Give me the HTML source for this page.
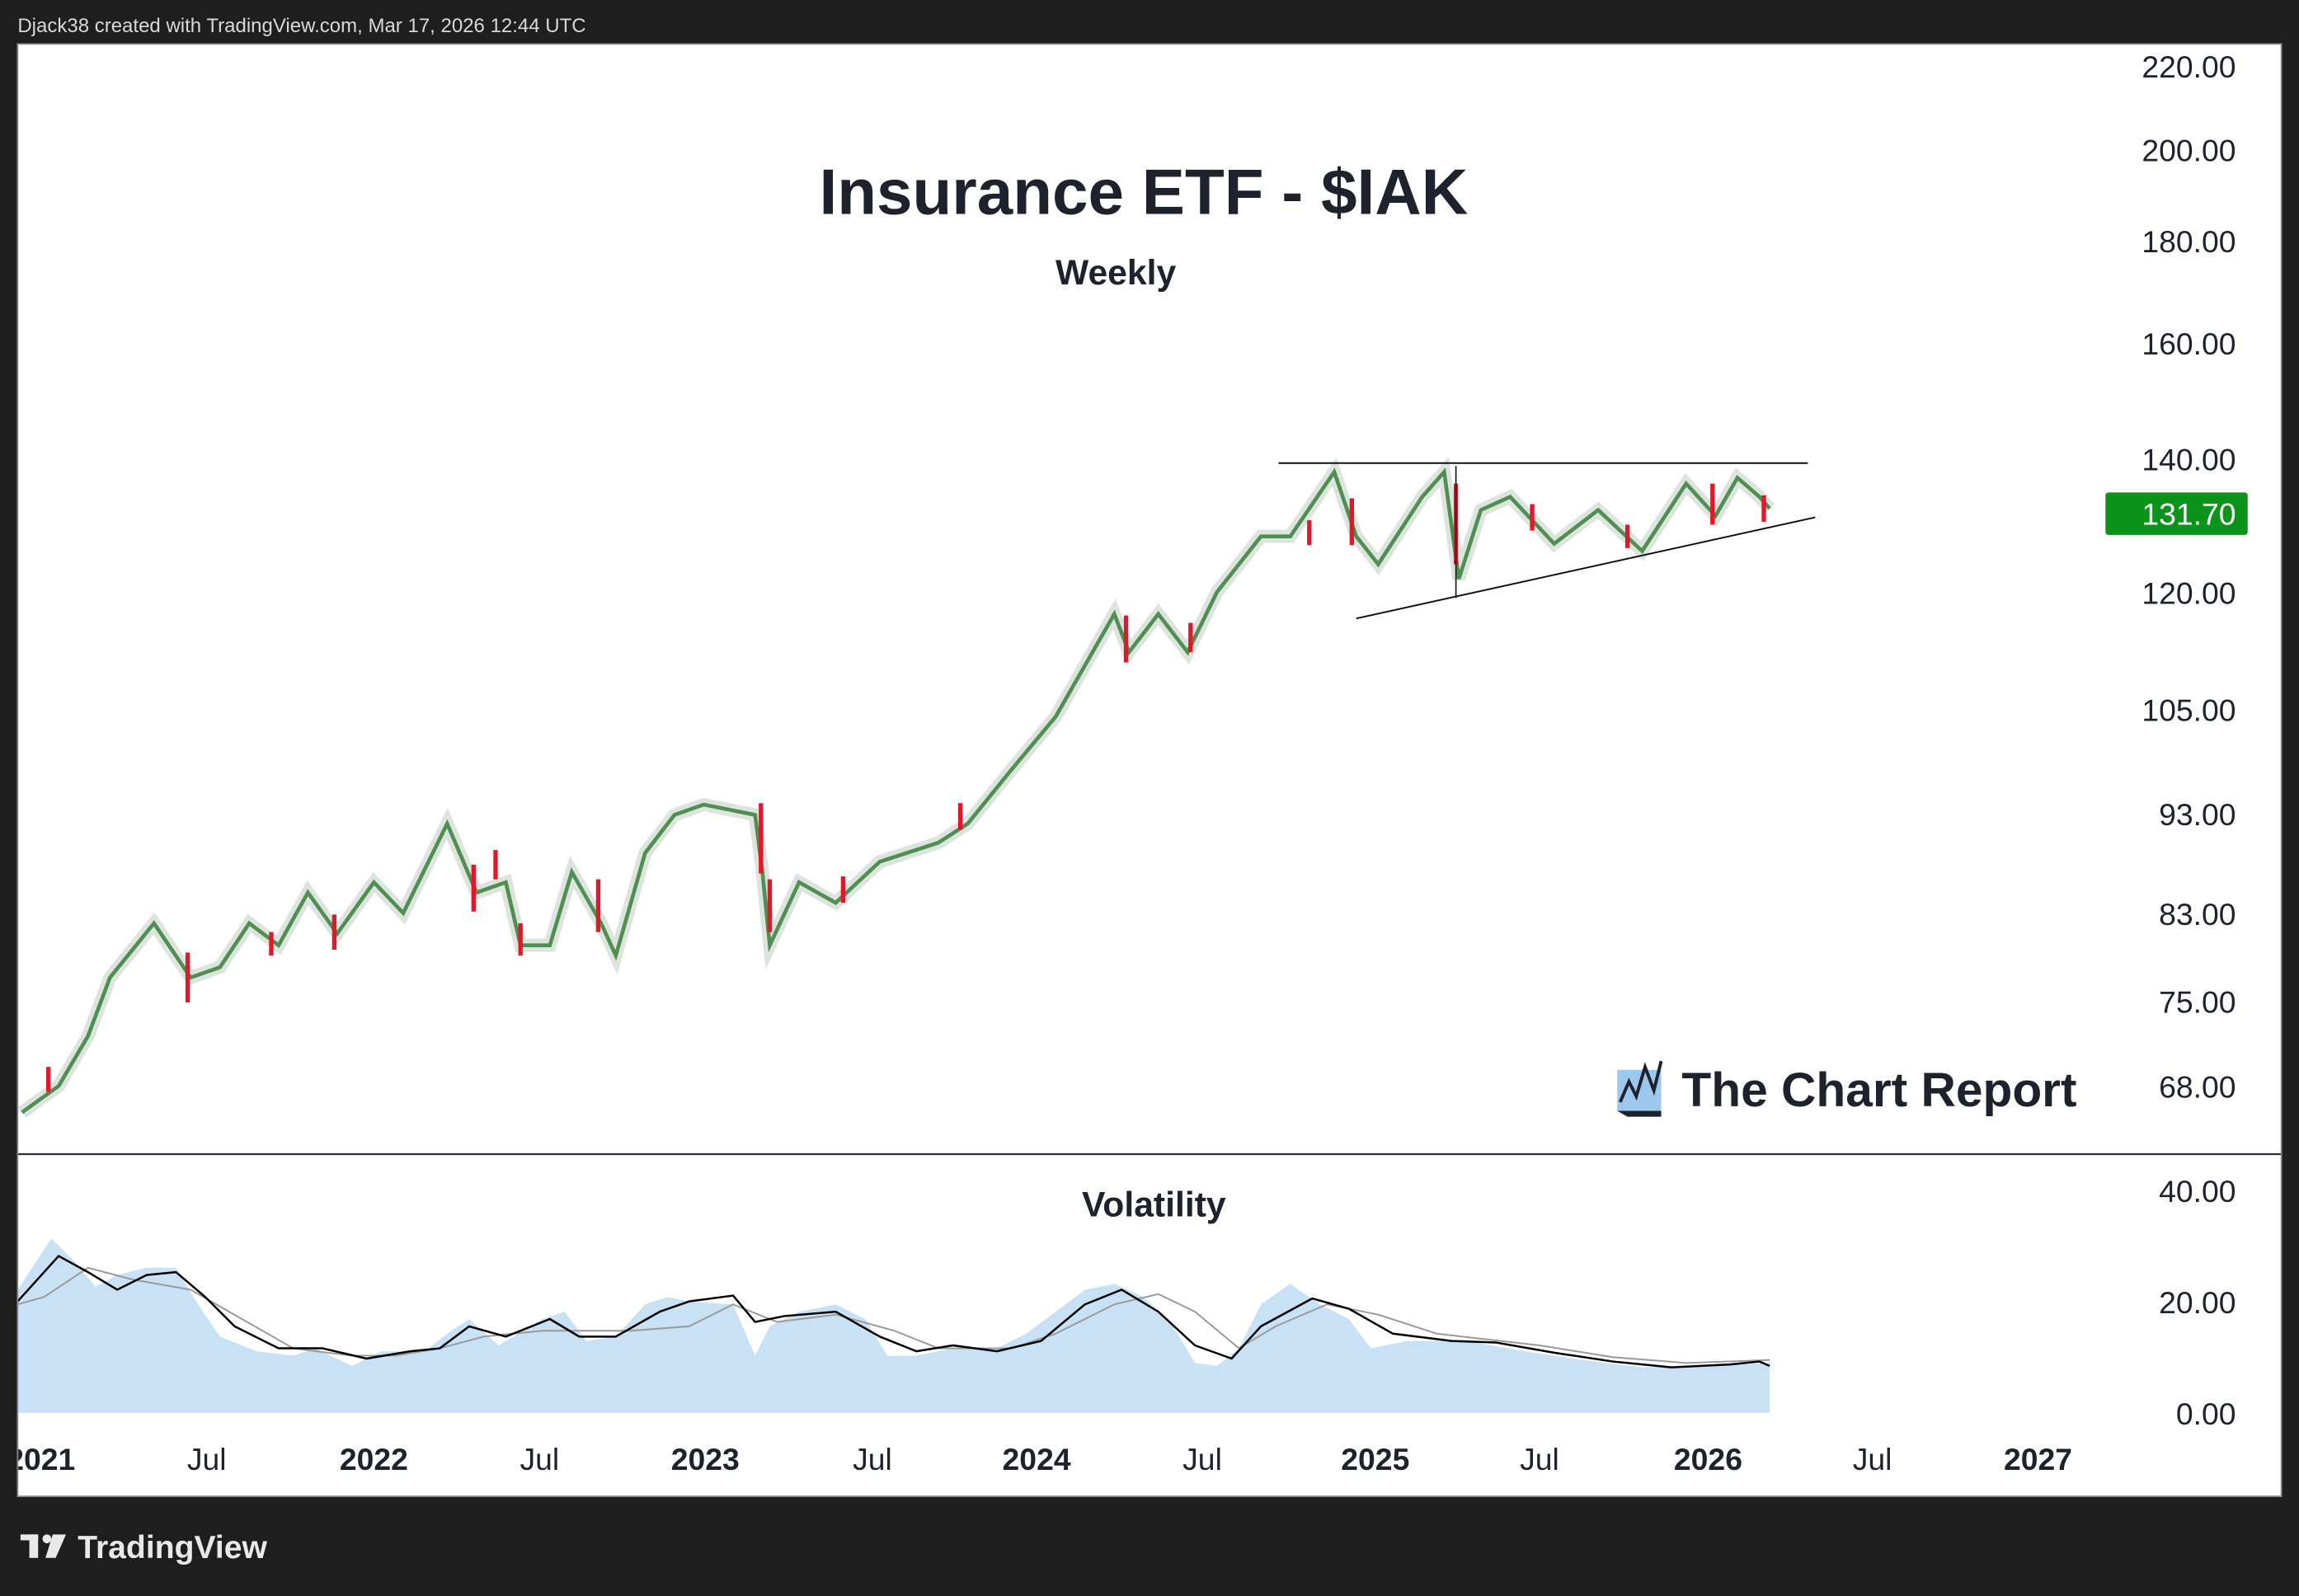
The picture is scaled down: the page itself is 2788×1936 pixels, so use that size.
<!DOCTYPE html>
<html><head><meta charset="utf-8"><style>
html,body{margin:0;padding:0;background:#1e1e1e;}
svg{display:block}
text{font-family:"Liberation Sans",sans-serif;}
</style></head><body>
<svg width="2788" height="1936" viewBox="0 0 1568 1089" preserveAspectRatio="none" xmlns="http://www.w3.org/2000/svg">
<rect x="0" y="0" width="1568" height="1089" fill="#1e1e1e"/>
<text x="12" y="22" font-size="13.5" fill="#d8d8d8">Djack38 created with TradingView.com, Mar 17, 2026 12:44 UTC</text>
<rect x="12" y="30" width="1544" height="991" fill="#ffffff"/>
<line x1="12" y1="787.5" x2="1556" y2="787.5" stroke="#2a2e39" stroke-width="1.2"/>

<!-- volatility -->
<polygon fill="#c9e1f5" points="12,880 35,845 50,860 65,878 80,870 100,865 120,865 135,890 150,912 175,922 200,925 215,920 240,932 260,922 290,922 305,910 320,900 340,918 370,900 385,895 400,915 420,912 440,890 455,885 470,888 500,890 515,925 525,905 545,895 570,890 590,900 605,925 625,925 650,920 680,920 700,910 720,895 740,880 760,876 780,885 800,905 815,930 830,932 845,920 860,890 880,876 900,890 920,900 935,920 960,915 1000,915 1040,922 1080,928 1120,933 1160,932 1207,930 1207,964 12,964"/>
<polyline fill="none" stroke="#999" stroke-width="1.1" stroke-linejoin="round" points="12,890 30,885 60,865 90,873 130,880 165,900 200,920 240,925 270,925 300,920 330,912 370,908 430,908 470,905 500,890 530,902 570,897 610,908 640,920 690,920 720,910 760,890 790,883 815,895 845,920 870,905 905,890 940,897 980,910 1050,918 1100,926 1150,930 1207,928"/>
<polyline fill="none" stroke="#000" stroke-width="1.4" stroke-linejoin="round" points="12,888 40,857 60,868 80,880 100,870 120,868 140,885 160,905 190,920 220,920 250,927 280,922 300,920 320,905 345,912 375,900 395,912 420,912 450,895 470,888 500,884 515,902 535,898 570,895 600,912 625,922 650,918 680,922 710,915 740,890 765,880 790,895 815,918 840,927 860,905 895,886 920,893 950,910 990,915 1020,916 1060,923 1100,929 1140,933 1180,931 1200,929 1207,932"/>

<!-- price -->
<g fill="none" stroke-linejoin="miter">
<polyline stroke="#dde4dd" stroke-width="9" points="15,759 40,741 60,707 75,667 105,630 130,667 150,660 170,630 190,645 210,609 230,637 255,602 275,623 305,562 325,609 345,602 355,645 375,645 390,595 410,630 420,652 440,582 460,556 480,549 515,556 520,595 525,645 545,602 570,616 600,588 640,575 660,562 690,525 720,489 760,419 770,445 790,419 810,445 830,404 860,366 880,366 910,322 925,366 940,385 970,339 985,322 995,395 1010,348 1030,339 1060,371 1090,348 1120,376 1150,330 1170,352 1185,326 1200,339 1207,347"/>
<polyline stroke="#4f8f52" stroke-width="2.6" points="15,759 40,741 60,707 75,667 105,630 130,667 150,660 170,630 190,645 210,609 230,637 255,602 275,623 305,562 325,609 345,602 355,645 375,645 390,595 410,630 420,652 440,582 460,556 480,549 515,556 520,595 525,645 545,602 570,616 600,588 640,575 660,562 690,525 720,489 760,419 770,445 790,419 810,445 830,404 860,366 880,366 910,322 925,366 940,385 970,339 985,322 995,395 1010,348 1030,339 1060,371 1090,348 1120,376 1150,330 1170,352 1185,326 1200,339 1207,347"/>
</g>
<g stroke="#e0182b" stroke-width="3">
<line x1="128" y1="650" x2="128" y2="684"/><line x1="228" y1="624" x2="228" y2="648"/><line x1="323" y1="590" x2="323" y2="622"/>
<line x1="355" y1="630" x2="355" y2="652"/><line x1="408" y1="600" x2="408" y2="636"/><line x1="519" y1="548" x2="519" y2="596"/>
<line x1="525" y1="600" x2="525" y2="636"/><line x1="768" y1="420" x2="768" y2="452"/><line x1="922" y1="340" x2="922" y2="372"/>
<line x1="993" y1="330" x2="993" y2="385"/><line x1="1168" y1="330" x2="1168" y2="358"/><line x1="1203" y1="338" x2="1203" y2="356"/>
<line x1="33" y1="728" x2="33" y2="745"/><line x1="185" y1="636" x2="185" y2="652"/><line x1="338" y1="580" x2="338" y2="600"/>
<line x1="575" y1="598" x2="575" y2="616"/><line x1="655" y1="548" x2="655" y2="566"/><line x1="812" y1="425" x2="812" y2="445"/>
<line x1="893" y1="355" x2="893" y2="372"/><line x1="1045" y1="344" x2="1045" y2="362"/><line x1="1110" y1="358" x2="1110" y2="374"/>
</g>
<line x1="993" y1="318" x2="993" y2="408" stroke="#222" stroke-width="1"/>

<line x1="872" y1="316" x2="1233" y2="316" stroke="#111" stroke-width="1.1"/>
<line x1="925" y1="422" x2="1238" y2="353" stroke="#111" stroke-width="1.1"/>
<text x="780" y="146" font-size="44" font-weight="bold" fill="#1e222d" text-anchor="middle">Insurance ETF - $IAK</text>
<text x="761" y="194" font-size="24" font-weight="bold" fill="#1e222d" text-anchor="middle">Weekly</text>
<text x="787" y="830" font-size="24" font-weight="bold" fill="#1e222d" text-anchor="middle">Volatility</text>
<g font-size="21" fill="#1e222d" text-anchor="end">
<text x="1525" y="53">220.00</text><text x="1525" y="110">200.00</text><text x="1525" y="172">180.00</text>
<text x="1525" y="242">160.00</text><text x="1525" y="321">140.00</text><text x="1525" y="412">120.00</text>
<text x="1525" y="492">105.00</text><text x="1525" y="563">93.00</text><text x="1525" y="631">83.00</text>
<text x="1525" y="691">75.00</text><text x="1525" y="749">68.00</text>
<text x="1525" y="820">40.00</text><text x="1525" y="896">20.00</text><text x="1525" y="972">0.00</text>
</g>
<rect x="1436" y="336" width="97" height="29" rx="2" fill="#0c931a"/>
<text x="1525" y="358" font-size="21" fill="#ffffff" text-anchor="end">131.70</text>
<g font-size="21" fill="#1e222d" text-anchor="middle">
<text x="28" y="1003" font-weight="bold">2021</text><text x="141" y="1003">Jul</text>
<text x="255" y="1003" font-weight="bold">2022</text><text x="368" y="1003">Jul</text>
<text x="481" y="1003" font-weight="bold">2023</text><text x="595" y="1003">Jul</text>
<text x="707" y="1003" font-weight="bold">2024</text><text x="820" y="1003">Jul</text>
<text x="938" y="1003" font-weight="bold">2025</text><text x="1050" y="1003">Jul</text>
<text x="1165" y="1003" font-weight="bold">2026</text><text x="1277" y="1003">Jul</text>
<text x="1390" y="1003" font-weight="bold">2027</text>
</g>
<rect x="0" y="0" width="12" height="1089" fill="#1e1e1e"/>
<rect x="12" y="30" width="1544" height="991" fill="none" stroke="#888" stroke-width="1"/>
<g>
<rect x="1103" y="730" width="30" height="28" fill="#9cc8ee"/>
<polyline points="1105,752 1111,738 1116,748 1122,728 1128,744 1133,724" fill="none" stroke="#1e222d" stroke-width="2.2"/>
<polygon points="1103,758 1133,758 1133,762 1110,762" fill="#1e222d"/>
<text x="1147" y="755" font-family="'Liberation Serif',serif" font-size="33" font-weight="bold" fill="#1e222d">The Chart Report</text>
</g>
<g fill="#e8e8e8">
<rect x="14" y="1047" width="12" height="4"/><rect x="20" y="1047" width="6" height="16"/>
<circle cx="32" cy="1050" r="3"/><polygon points="36,1047 45,1047 38,1063 31,1063"/>
<text x="53" y="1063" font-size="22" font-weight="bold">TradingView</text>
</g>
</svg>
</body></html>
